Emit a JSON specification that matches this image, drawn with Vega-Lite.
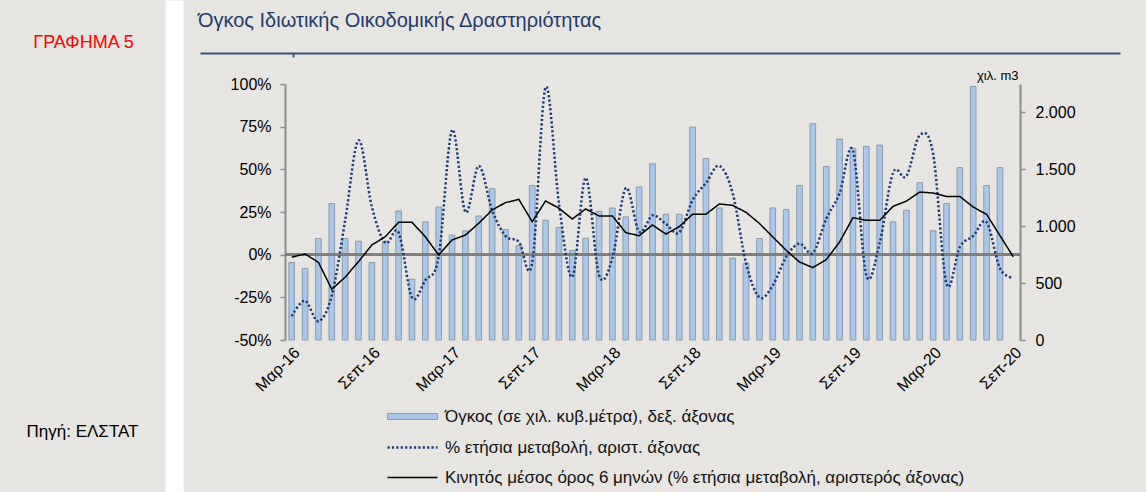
{
  "$schema": "https://vega.github.io/schema/vega-lite/v6.json",
  "width": 735,
  "height": 256,
  "autosize": {"type": "none"},
  "padding": {"left": 285, "top": 84, "right": 126, "bottom": 152},
  "background": "#e6e5e1",
  "config": {
    "view": {"stroke": null},
    "font": "Liberation Sans",
    "axis": {"grid": false},
    "legend": {
      "orient": "none", "direction": "vertical",
      "title": null, "padding": 0,
      "labelFont": "Liberation Sans", "labelFontSize": 17, "labelColor": "#111111",
      "labelLimit": 1000, "labelOffset": 24, "symbolSize": 100
    }
  },
  "title": {
    "text": "Όγκος Ιδιωτικής Οικοδομικής Δραστηριότητας",
    "anchor": "start", "frame": "group", "dx": -87, "dy": 14, "offset": 0,
    "baseline": "alphabetic", "fontSize": 20, "fontWeight": "normal", "color": "#1f3a6b"
  },
  "datasets": {
    "d": [
      {"m": "Μαρ-16", "vol": 681, "yoy": -36, "ma": -1.5},
      {"m": "Απρ-16", "vol": 629, "yoy": -27, "ma": 0.4},
      {"m": "Μαϊ-16", "vol": 892, "yoy": -39, "ma": -4.5},
      {"m": "Ιουν-16", "vol": 1199, "yoy": -24, "ma": -20.3},
      {"m": "Ιουλ-16", "vol": 892, "yoy": 20, "ma": -13.2},
      {"m": "Αυγ-16", "vol": 868, "yoy": 67, "ma": -4.1},
      {"m": "Σεπ-16", "vol": 681, "yoy": 28, "ma": 5.7},
      {"m": "Οκτ-16", "vol": 868, "yoy": 7, "ma": 10.5},
      {"m": "Νοε-16", "vol": 1134, "yoy": 13, "ma": 19},
      {"m": "Δεκ-16", "vol": 535, "yoy": -25, "ma": 19},
      {"m": "Ιαν-17", "vol": 1038, "yoy": -15, "ma": 10.5},
      {"m": "Φεβ-17", "vol": 1169, "yoy": -1, "ma": -0.2},
      {"m": "Μαρ-17", "vol": 921, "yoy": 73, "ma": 8.6},
      {"m": "Απρ-17", "vol": 959, "yoy": 25, "ma": 11.5},
      {"m": "Μαϊ-17", "vol": 1090, "yoy": 52, "ma": 18.4},
      {"m": "Ιουν-17", "vol": 1330, "yoy": 26, "ma": 26.2},
      {"m": "Ιουλ-17", "vol": 971, "yoy": 11, "ma": 30.5},
      {"m": "Αυγ-17", "vol": 830, "yoy": 7.6, "ma": 32.4},
      {"m": "Σεπ-17", "vol": 1357, "yoy": -4.7, "ma": 19.3},
      {"m": "Οκτ-17", "vol": 1052, "yoy": 98, "ma": 31.5},
      {"m": "Νοε-17", "vol": 988, "yoy": 30, "ma": 27.2},
      {"m": "Δεκ-17", "vol": 787, "yoy": -13, "ma": 20.9},
      {"m": "Ιαν-18", "vol": 894, "yoy": 45, "ma": 26.8},
      {"m": "Φεβ-18", "vol": 1131, "yoy": -12, "ma": 22.7},
      {"m": "Μαρ-18", "vol": 1160, "yoy": -2, "ma": 22.7},
      {"m": "Απρ-18", "vol": 1082, "yoy": 39, "ma": 12.9},
      {"m": "Μαϊ-18", "vol": 1345, "yoy": 13.5, "ma": 11.1},
      {"m": "Ιουν-18", "vol": 1549, "yoy": 23, "ma": 17.4},
      {"m": "Ιουλ-18", "vol": 1105, "yoy": 18, "ma": 12.1},
      {"m": "Αυγ-18", "vol": 1105, "yoy": 13, "ma": 16.4},
      {"m": "Σεπ-18", "vol": 1871, "yoy": 32, "ma": 23.7},
      {"m": "Οκτ-18", "vol": 1596, "yoy": 42, "ma": 23.7},
      {"m": "Νοε-18", "vol": 1160, "yoy": 52, "ma": 29.7},
      {"m": "Δεκ-18", "vol": 719, "yoy": 36, "ma": 28.9},
      {"m": "Ιαν-19", "vol": 675, "yoy": -5, "ma": 24.8},
      {"m": "Φεβ-19", "vol": 892, "yoy": -25, "ma": 18.3},
      {"m": "Μαρ-19", "vol": 1161, "yoy": -18, "ma": 10.4},
      {"m": "Απρ-19", "vol": 1146, "yoy": -1.3, "ma": 2.6},
      {"m": "Μαϊ-19", "vol": 1357, "yoy": 6.5, "ma": -4.3},
      {"m": "Ιουν-19", "vol": 1901, "yoy": 1, "ma": -7.6},
      {"m": "Ιουλ-19", "vol": 1526, "yoy": 21, "ma": -2.9},
      {"m": "Αυγ-19", "vol": 1766, "yoy": 36, "ma": 7.4},
      {"m": "Σεπ-19", "vol": 1684, "yoy": 61, "ma": 21.7},
      {"m": "Οκτ-19", "vol": 1702, "yoy": -12, "ma": 20.1},
      {"m": "Νοε-19", "vol": 1713, "yoy": 7, "ma": 20.1},
      {"m": "Δεκ-19", "vol": 1038, "yoy": 48, "ma": 28.3},
      {"m": "Ιαν-20", "vol": 1140, "yoy": 46, "ma": 31.4},
      {"m": "Φεβ-20", "vol": 1383, "yoy": 70, "ma": 36.7},
      {"m": "Μαρ-20", "vol": 959, "yoy": 59, "ma": 36.1},
      {"m": "Απρ-20", "vol": 1199, "yoy": -17, "ma": 34.1},
      {"m": "Μαϊ-20", "vol": 1515, "yoy": 4.5, "ma": 34.1},
      {"m": "Ιουν-20", "vol": 2228, "yoy": 11, "ma": 27.9},
      {"m": "Ιουλ-20", "vol": 1357, "yoy": 19, "ma": 23.6},
      {"m": "Αυγ-20", "vol": 1515, "yoy": -8, "ma": 11.2},
      {"m": "Σεπ-20", "vol": null, "yoy": -13.6, "ma": -1.3}
    ]
  },
  "data": {"name": "d"},
  "layer": [
    {
      "layer": [
        {
          "mark": {"type": "bar", "width": {"band": 0.42}, "stroke": "#8d9bab", "strokeWidth": 1},
          "encoding": {
            "x": {
              "field": "m", "type": "ordinal", "sort": null,
              "scale": {"paddingInner": 0, "paddingOuter": 0},
              "axis": {
                "orient": "bottom",
                "values": ["Μαρ-16", "Σεπ-16", "Μαρ-17", "Σεπ-17", "Μαρ-18", "Σεπ-18", "Μαρ-19", "Σεπ-19", "Μαρ-20", "Σεπ-20"],
                "labelAngle": -45, "labelAlign": "right", "labelBaseline": "top",
                "labelFontSize": 16, "labelColor": "#000000", "labelPadding": 4,
                "domain": false, "ticks": false,
                "title": "Πηγή: ΕΛΣΤΑΤ", "titleX": -203, "titleY": 96,
                "titleAlign": "center", "titleBaseline": "alphabetic",
                "titleFontSize": 17, "titleFontWeight": "normal", "titleColor": "#000000"
              }
            },
            "y": {
              "field": "vol", "type": "quantitative",
              "scale": {"domain": [0, 2250], "nice": false},
              "axis": {
                "orient": "right", "values": [0, 500, 1000, 1500, 2000],
                "labelExpr": "replace(format(datum.value, ','), ',', '.')",
                "labelFontSize": 16, "labelColor": "#000000", "labelPadding": 10,
                "tickSize": 5, "tickColor": "#8c8c8c", "tickWidth": 1.5,
                "domainColor": "#8c8c8c", "domainWidth": 2,
                "title": "χιλ. m3", "titleAngle": 0, "titleX": -2, "titleY": -5,
                "titleAlign": "right", "titleBaseline": "alphabetic",
                "titleFontSize": 13, "titleFontWeight": "normal", "titleColor": "#000000"
              }
            },
            "fill": {
              "datum": "Όγκος (σε χιλ. κυβ.μέτρα), δεξ. άξονας",
              "scale": {"range": ["#a9c7ea"]},
              "legend": {
                "legendX": 119, "legendY": 324,
                "symbolType": "M-5,-0.6L5,-0.6L5,0.6L-5,0.6Z",
                "symbolStrokeColor": "#8d9bab", "symbolStrokeWidth": 1, "symbolOpacity": 1
              }
            }
          }
        },
        {
          "layer": [
            {
              "mark": {"type": "rule", "color": "#7f7f7f", "strokeWidth": 2},
              "encoding": {
                "y": {
                  "datum": 0, "type": "quantitative",
                  "scale": {"domain": [-50, 100], "nice": false},
                  "axis": {
                    "orient": "left", "values": [-50, -25, 0, 25, 50, 75, 100],
                    "labelExpr": "datum.value + '%'",
                    "labelFontSize": 16, "labelColor": "#000000", "labelPadding": 9,
                    "tickSize": 5, "tickColor": "#8c8c8c", "tickWidth": 1.5,
                    "domainColor": "#8c8c8c", "domainWidth": 2,
                    "title": "ΓΡΑΦΗΜΑ 5", "titleAngle": 0, "titleX": -202, "titleY": -37,
                    "titleAlign": "center", "titleBaseline": "alphabetic",
                    "titleFontSize": 18, "titleFontWeight": "normal", "titleColor": "#ff0000"
                  }
                }
              }
            },
            {
              "mark": {"type": "line", "interpolate": "cardinal", "strokeWidth": 2.5, "strokeDash": [2.2, 2.2]},
              "encoding": {
                "x": {"field": "m", "type": "ordinal", "sort": null},
                "y": {"field": "yoy", "type": "quantitative", "scale": {"domain": [-50, 100], "nice": false}},
                "stroke": {
                  "datum": "% ετήσια μεταβολή, αριστ. άξονας",
                  "scale": {"range": ["#1b3a78"]},
                  "legend": {
                    "legendX": 119, "legendY": 355,
                    "symbolType": "M-5,0L5,0", "symbolDash": [2.2, 2.2],
                    "symbolStrokeWidth": 2.5, "symbolOpacity": 1
                  }
                }
              }
            },
            {
              "mark": {"type": "line", "strokeWidth": 1.5, "color": "#000000"},
              "encoding": {
                "x": {"field": "m", "type": "ordinal", "sort": null},
                "y": {"field": "ma", "type": "quantitative", "scale": {"domain": [-50, 100], "nice": false}},
                "strokeDash": {
                  "datum": "Κινητός μέσος όρος 6 μηνών (% ετήσια μεταβολή, αριστερός άξονας)",
                  "scale": {"range": [[1, 0]]},
                  "legend": {
                    "legendX": 119, "legendY": 385,
                    "symbolType": "M-5,0L5,0", "symbolStrokeColor": "#000000",
                    "symbolStrokeWidth": 1.5, "symbolOpacity": 1
                  }
                }
              }
            }
          ]
        }
      ],
      "resolve": {"scale": {"y": "independent"}}
    },
    {
      "mark": {"type": "point", "opacity": 0},
      "encoding": {
        "x": {
          "field": "m", "type": "ordinal", "sort": null,
          "scale": {"type": "band", "range": [-85, 835], "paddingInner": 0, "paddingOuter": 0},
          "axis": {
            "orient": "top", "offset": 31, "labels": false, "title": null,
            "values": ["Αυγ-16"], "tickSize": -4, "tickWidth": 2, "tickColor": "#3d5078",
            "domainColor": "#3d5078", "domainWidth": 2
          }
        },
        "y": {
          "field": "vol", "type": "quantitative",
          "scale": {"range": [408, -84]},
          "axis": {
            "orient": "left", "offset": 111, "labels": false, "ticks": false, "title": null,
            "domainColor": "#ffffff", "domainWidth": 18
          }
        }
      }
    }
  ],
  "resolve": {"scale": {"x": "independent", "y": "independent"}}
}
